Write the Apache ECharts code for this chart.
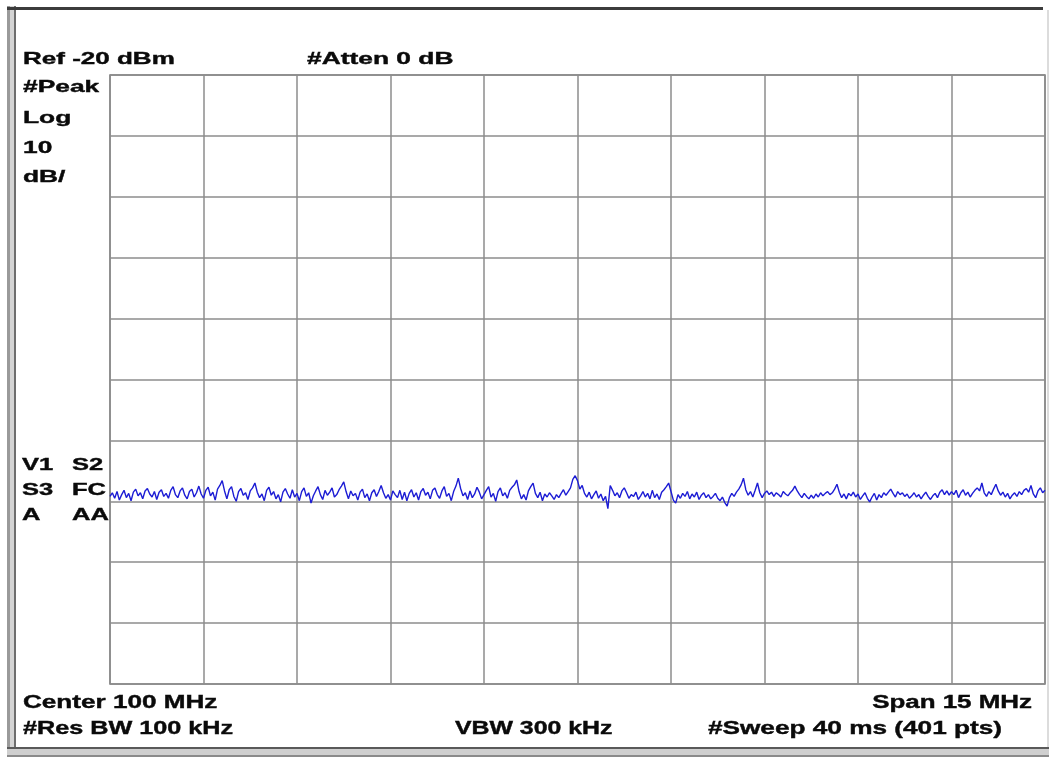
<!DOCTYPE html>
<html>
<head>
<meta charset="utf-8">
<script src="https://cdn.jsdelivr.net/npm/echarts@6/dist/echarts.min.js"></script>
<style>
html,body{margin:0;padding:0;background:#fff;}
#chart{width:1051px;height:761px;}
</style>
</head>
<body>
<div id="chart"></div>
<script>
// Sweep trace levels in dBm (401 points)
const traceLevels = [
-89.2,-88.6,-89.5,-88.4,-89.8,-88.9,-88.2,-89.4,-88.7,-89.9,-88.5,-88.0,-89.1,-88.6,-89.6,-88.3,-87.9,-88.8,-89.3,-88.4,
-89.7,-88.5,-88.1,-89.2,-88.7,-89.5,-88.2,-87.6,-88.9,-89.4,-88.3,-87.8,-89.0,-89.6,-88.4,-88.0,-89.3,-88.6,-87.5,-88.8,
-89.5,-88.2,-87.7,-89.1,-88.5,-89.8,-88.0,-87.4,-86.6,-88.3,-89.6,-88.1,-87.6,-89.2,-90.0,-88.4,-87.9,-89.0,-88.6,-89.7,
-88.3,-87.8,-87.0,-88.5,-89.4,-88.8,-89.9,-88.2,-87.7,-89.0,-88.4,-89.6,-88.9,-90.1,-88.5,-87.9,-88.8,-89.5,-88.1,-89.3,
-88.7,-89.9,-88.4,-87.8,-89.2,-88.6,-90.3,-89.1,-88.3,-87.6,-88.9,-89.7,-88.2,-89.0,-88.5,-87.8,-89.3,-88.9,-88.1,-87.5,
-86.8,-88.4,-89.6,-88.3,-89.1,-88.7,-89.8,-88.5,-88.0,-89.4,-88.8,-89.9,-88.6,-88.1,-89.2,-88.4,-87.4,-88.6,-89.5,-88.9,
-89.8,-88.3,-88.9,-89.4,-88.2,-89.7,-88.5,-89.9,-88.7,-88.1,-89.3,-88.6,-89.8,-88.4,-87.9,-89.0,-88.5,-89.6,-88.2,-87.8,
-88.9,-89.5,-88.3,-87.6,-89.2,-88.7,-89.9,-88.4,-87.5,-86.2,-87.9,-89.1,-88.6,-89.7,-88.3,-89.4,-88.8,-87.7,-88.5,-89.6,
-88.9,-88.2,-87.6,-89.3,-88.7,-90.0,-88.4,-87.8,-89.1,-88.6,-89.5,-88.2,-87.7,-87.3,-86.5,-88.4,-89.6,-88.9,-89.8,-88.3,
-87.6,-87.0,-88.7,-89.4,-88.5,-89.9,-88.8,-89.3,-88.6,-89.1,-89.7,-88.9,-89.4,-88.7,-88.1,-89.0,-88.4,-87.8,-86.4,-85.8,
-86.6,-88.0,-87.4,-88.7,-89.3,-88.5,-89.6,-88.9,-88.3,-89.5,-88.8,-89.9,-89.2,-91.2,-87.4,-88.2,-89.1,-88.6,-89.4,-88.3,
-87.8,-88.6,-89.5,-88.9,-89.2,-88.5,-89.7,-89.1,-88.4,-89.3,-88.7,-89.6,-88.2,-89.4,-88.8,-89.7,-88.5,-88.1,-87.6,-87.0,
-88.4,-89.8,-90.3,-88.9,-89.5,-88.7,-89.2,-88.4,-89.6,-88.8,-89.3,-88.5,-89.7,-89.0,-88.6,-89.4,-88.9,-89.6,-89.2,-88.7,
-89.5,-89.9,-89.3,-90.2,-90.8,-89.4,-88.7,-89.2,-88.5,-88.0,-87.3,-86.2,-88.1,-89.0,-88.4,-89.3,-88.2,-87.0,-88.6,-89.4,
-88.7,-88.3,-88.9,-88.5,-89.2,-88.6,-88.9,-89.3,-88.4,-88.8,-89.1,-88.6,-88.2,-87.5,-88.3,-88.9,-89.4,-88.7,-89.2,-89.6,
-89.0,-89.5,-88.8,-89.3,-88.6,-89.1,-88.7,-88.4,-88.9,-88.6,-88.0,-87.2,-88.5,-89.4,-88.8,-89.6,-88.7,-89.1,-88.5,-89.3,
-88.8,-89.7,-89.1,-88.6,-89.5,-90.1,-89.3,-88.7,-89.8,-88.9,-89.4,-88.6,-89.0,-88.5,-88.0,-88.7,-89.3,-88.4,-88.9,-88.6,
-89.2,-88.8,-89.5,-89.1,-88.6,-89.3,-88.9,-89.6,-89.0,-88.5,-89.2,-89.7,-89.1,-88.7,-89.4,-88.5,-88.1,-88.9,-88.3,-89.0,
-88.4,-88.9,-88.2,-89.4,-88.6,-88.1,-89.0,-88.5,-89.3,-88.7,-88.2,-87.8,-88.3,-87.0,-88.6,-89.2,-88.4,-88.9,-88.0,-87.2,
-88.3,-89.0,-88.5,-89.3,-88.7,-89.6,-89.0,-88.6,-89.2,-88.4,-88.9,-88.2,-87.9,-88.5,-87.4,-88.8,-89.4,-88.3,-87.8,-88.6,
-88.2
];

// Axis settings (dBm scale and sweep point index)
const refLevelDbm = -20;
const dbPerDiv = 10;
const divisions = 10;
const sweepPointCount = 401;

// Annotation texts
const headerTexts = ['Ref -20 dBm', '#Atten 0 dB'];
const modeTexts = ['#Peak', 'Log', '10', 'dB/'];
const markerTextsLeft = ['V1', 'S3', 'A'];
const markerTextsRight = ['S2', 'FC', 'AA'];
const footerRow1 = ['Center 100 MHz', 'Span 15 MHz'];
const footerRow2 = ['#Res BW 100 kHz', 'VBW 300 kHz', '#Sweep 40 ms (401 pts)'];

const FONT_FAMILY = '"Liberation Sans", Arial, sans-serif';
const topFont = 'bold 17px ' + FONT_FAMILY;
const botFont = 'bold 18px ' + FONT_FAMILY;

function txt(text, x, y, font, sx, align) {
  return {
    type: 'text', x: x, y: y, scaleX: sx, scaleY: 1, z: 100,
    style: {
      text: text, font: font, fill: '#0a0a0a',
      stroke: '#0a0a0a', lineWidth: 0.4,
      textAlign: align || 'left', align: align || 'left',
      textVerticalAlign: 'middle', verticalAlign: 'middle'
    }
  };
}

const chart = echarts.init(document.getElementById('chart'), null, {renderer: 'canvas'});

const seriesData = traceLevels.map((v, i) => [i, v]);

const graphics = [
  // outer frame
  {type: 'rect', shape: {x: 7, y: 6, width: 3, height: 750}, style: {fill: '#9a9a9a'}, z: 1},
  {type: 'rect', shape: {x: 10, y: 6, width: 4, height: 750}, style: {fill: '#d4d4d4'}, z: 1},
  {type: 'rect', shape: {x: 14, y: 6, width: 2, height: 750}, style: {fill: '#6e6e6e'}, z: 1},
  {type: 'rect', shape: {x: 7, y: 7, width: 1036, height: 3}, style: {fill: '#3c3c3c'}, z: 1},
  {type: 'rect', shape: {x: 1047, y: 10, width: 2, height: 745}, style: {fill: '#dcdcdc'}, z: 1},
  {type: 'rect', shape: {x: 7, y: 747, width: 1042, height: 2}, style: {fill: '#5a5a5a'}, z: 1},
  {type: 'rect', shape: {x: 7, y: 749, width: 1042, height: 6}, style: {fill: '#cfcfcf'}, z: 1},
  {type: 'rect', shape: {x: 7, y: 755, width: 1042, height: 2}, style: {fill: '#8a8a8a'}, z: 1},

  txt(headerTexts[0], 23, 59, topFont, 1.53),
  txt(headerTexts[1], 307, 59, topFont, 1.55),

  txt(modeTexts[0], 23, 87, topFont, 1.55),
  txt(modeTexts[1], 23, 118, topFont, 1.55),
  txt(modeTexts[2], 23, 148, topFont, 1.55),
  txt(modeTexts[3], 23, 177, topFont, 1.55),

  txt(markerTextsLeft[0], 22, 465, topFont, 1.5),
  txt(markerTextsLeft[1], 22, 490, topFont, 1.5),
  txt(markerTextsLeft[2], 22, 515, topFont, 1.5),
  txt(markerTextsRight[0], 72, 465, topFont, 1.5),
  txt(markerTextsRight[1], 72, 490, topFont, 1.5),
  txt(markerTextsRight[2], 72, 515, topFont, 1.5),

  txt(footerRow1[0], 23, 703, botFont, 1.45),
  txt(footerRow1[1], 1032, 703, botFont, 1.44, 'right'),
  txt(footerRow2[0], 23, 729, botFont, 1.40),
  txt(footerRow2[1], 455, 729, botFont, 1.38),
  txt(footerRow2[2], 1002, 729, botFont, 1.455, 'right')
];

chart.setOption({
  backgroundColor: '#ffffff',
  animation: false,
  grid: {
    left: 110, top: 75, width: 935, height: 609,
    show: true, borderColor: '#7a7a7a', borderWidth: 1.5, backgroundColor: 'transparent'
  },
  xAxis: {
    type: 'value', min: 0, max: sweepPointCount - 1, interval: (sweepPointCount - 1) / divisions,
    axisLine: {show: false}, axisTick: {show: false}, axisLabel: {show: false},
    splitLine: {show: true, lineStyle: {color: '#8c8c8c', width: 1.5}}
  },
  yAxis: {
    type: 'value', min: refLevelDbm - dbPerDiv * divisions, max: refLevelDbm, interval: dbPerDiv,
    axisLine: {show: false}, axisTick: {show: false}, axisLabel: {show: false},
    splitLine: {show: true, lineStyle: {color: '#8c8c8c', width: 1.5}}
  },
  series: [{
    type: 'line', data: seriesData, showSymbol: false, symbol: 'none',
    lineStyle: {color: '#1c1cd4', width: 1.4}, z: 5
  }],
  graphic: graphics
});
</script>
</body>
</html>
